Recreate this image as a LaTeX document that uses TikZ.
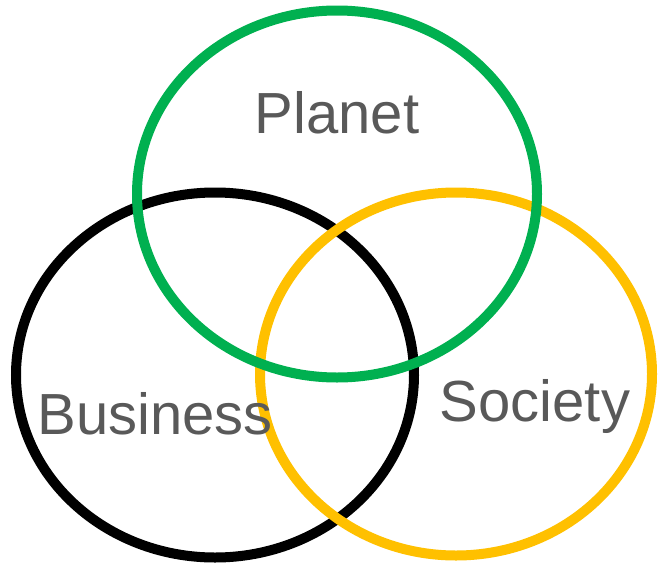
\documentclass[tikz,border=0pt]{standalone}
\usepackage{fontspec}
\setmainfont{Liberation Sans}
\definecolor{planetGreen}{HTML}{00B050}
\definecolor{societyYellow}{HTML}{FFC000}
\definecolor{labelGray}{HTML}{595959}
\newcommand{\ringWidth}{10pt}
\newcommand{\labelFont}{\fontsize{58}{62}\selectfont}
\tikzset{
  ring/.style={line width=\ringWidth},
  label/.style={text=labelGray, font=\labelFont, inner sep=0pt, anchor=base}
}

\begin{document}
\begin{tikzpicture}[x=1pt, y=-1pt]
      \useasboundingbox (0,0) rectangle (658,565);
      % rings
      \draw[ring,black] (215,375) ellipse [x radius=199, y radius=182.5];
      \draw[ring,color=societyYellow] (456,374) ellipse [x radius=196, y radius=181.5];
      \draw[ring,color=planetGreen] (337,194) ellipse [x radius=200, y radius=183.5];
      % labels
      \node (planet) [label] at (337,133) {Planet};
      \node (business) [label] at (155,434) {Business};
      \node (society) [label] at (535,421) {Society};
      \end{tikzpicture}
\end{document}
